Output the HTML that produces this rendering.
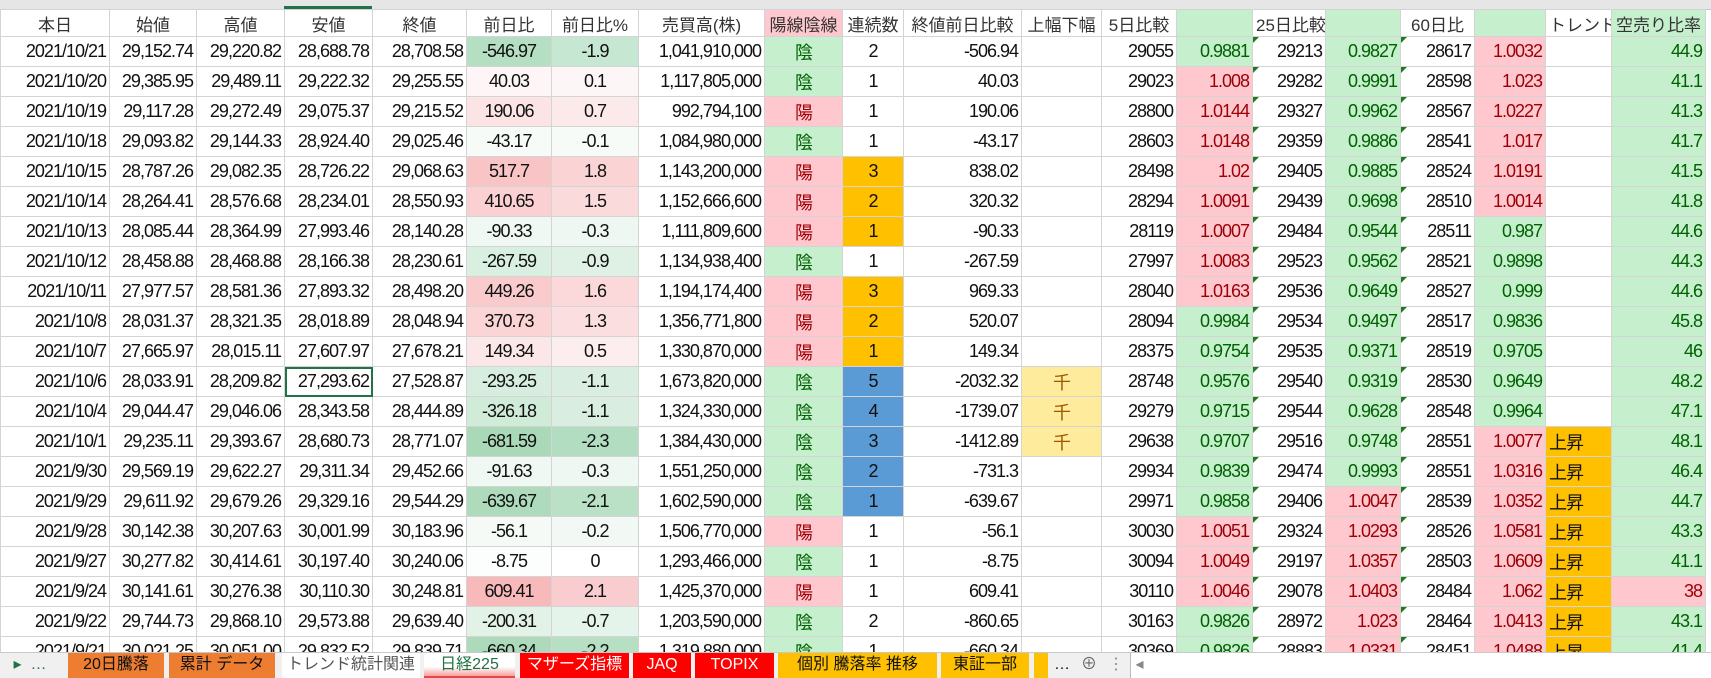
<!DOCTYPE html>
<html><head><meta charset="utf-8"><style>
body{margin:0;width:1711px;height:677px;overflow:hidden;background:#fff;font-family:"Liberation Sans","Noto Sans CJK JP",sans-serif;position:relative}
.top{position:absolute;left:0;top:0;width:1711px;height:9px;background:#e6e6e6;border-bottom:1px solid #c8c8c8}
.sel{position:absolute;left:284px;top:6px;width:88px;height:3px;background:#217346}
table{position:absolute;left:0;top:9px;border-collapse:collapse;table-layout:fixed;width:1705px}
td{border:1px solid #d4d4d4;height:29px;padding:0 3px;font-size:18px;letter-spacing:-1px;white-space:nowrap;overflow:hidden;text-align:right;color:#111;position:relative}
tr.h td{height:26px;text-align:center;font-size:17px;letter-spacing:0;color:#333}
.c{text-align:center}.l{text-align:left}
.in{background:#c6efce;color:#006100;text-align:center}
.yo{background:#ffc7ce;color:#9c0006;text-align:center}
.g{background:#c6efce;color:#006100}
.r{background:#ffc7ce;color:#9c0006}
.o{background:#ffc000}
.b{background:#5b9bd5}
.y{background:#ffeb9c;color:#9c5700;text-align:center}
.t::before{content:"";position:absolute;left:0;top:0;border-top:6px solid #1e7b1e;border-right:6px solid transparent}
.tabs{position:absolute;left:0;top:652px;width:1711px;height:25px;background:#f0f0f0;border-top:1px solid #c8c8c8;font-size:16px}
.tab{position:absolute;top:0;height:25px;line-height:24px;text-align:center;color:#111;white-space:nowrap;overflow:hidden}
</style></head><body>
<div class="top"></div><div class="sel"></div>
<table>
<colgroup><col style="width:109px"><col style="width:87px"><col style="width:88px"><col style="width:88px"><col style="width:94px"><col style="width:85px"><col style="width:87px"><col style="width:126px"><col style="width:78px"><col style="width:61px"><col style="width:118px"><col style="width:80px"><col style="width:75px"><col style="width:76px"><col style="width:73px"><col style="width:75px"><col style="width:74px"><col style="width:71px"><col style="width:66px"><col style="width:94px"></colgroup>
<tr class="h"><td>本日</td><td>始値</td><td>高値</td><td>安値</td><td>終値</td><td>前日比</td><td>前日比%</td><td>売買高(株)</td><td class="yo">陽線陰線</td><td>連続数</td><td>終値前日比較</td><td>上幅下幅</td><td class="l">5日比較</td><td class="g"></td><td class="l">25日比較</td><td class="g"></td><td class="l">60日比</td><td class="g"></td><td class="l">トレンド</td><td class="g">空売り比率</td></tr>
<tr><td>2021/10/21</td><td>29,152.74</td><td>29,220.82</td><td>28,688.78</td><td>28,708.58</td><td class="c" style="background:#b5dfc2">-546.97</td><td class="c" style="background:#c6e7d1">-1.9</td><td>1,041,910,000</td><td class="in">陰</td><td class="c">2</td><td>-506.94</td><td></td><td>29055</td><td class="g">0.9881</td><td class="t">29213</td><td class="g">0.9827</td><td class="t">28617</td><td class="r">1.0032</td><td></td><td class="g">44.9</td></tr>
<tr><td>2021/10/20</td><td>29,385.95</td><td>29,489.11</td><td>29,222.32</td><td>29,255.55</td><td class="c" style="background:#fdf5f6">40.03</td><td class="c" style="background:#fdf6f7">0.1</td><td>1,117,805,000</td><td class="in">陰</td><td class="c">1</td><td>40.03</td><td></td><td>29023</td><td class="r">1.008</td><td class="t">29282</td><td class="g">0.9991</td><td class="t">28598</td><td class="r">1.023</td><td></td><td class="g">41.1</td></tr>
<tr><td>2021/10/19</td><td>29,117.28</td><td>29,272.49</td><td>29,075.37</td><td>29,215.52</td><td class="c" style="background:#fce3e4">190.06</td><td class="c" style="background:#fce9ea">0.7</td><td>992,794,100</td><td class="yo">陽</td><td class="c">1</td><td>190.06</td><td></td><td>28800</td><td class="r">1.0144</td><td class="t">29327</td><td class="g">0.9962</td><td class="t">28567</td><td class="r">1.0227</td><td></td><td class="g">41.3</td></tr>
<tr><td>2021/10/18</td><td>29,093.82</td><td>29,144.33</td><td>28,924.40</td><td>29,025.46</td><td class="c" style="background:#f7fbf8">-43.17</td><td class="c" style="background:#f6fbf8">-0.1</td><td>1,084,980,000</td><td class="in">陰</td><td class="c">1</td><td>-43.17</td><td></td><td>28603</td><td class="r">1.0148</td><td class="t">29359</td><td class="g">0.9886</td><td class="t">28541</td><td class="r">1.017</td><td></td><td class="g">41.7</td></tr>
<tr><td>2021/10/15</td><td>28,787.26</td><td>29,082.35</td><td>28,726.22</td><td>29,068.63</td><td class="c" style="background:#f9c4c6">517.7</td><td class="c" style="background:#fad4d5">1.8</td><td>1,143,200,000</td><td class="yo">陽</td><td class="c o">3</td><td>838.02</td><td></td><td>28498</td><td class="r">1.02</td><td class="t">29405</td><td class="g">0.9885</td><td class="t">28524</td><td class="r">1.0191</td><td></td><td class="g">41.5</td></tr>
<tr><td>2021/10/14</td><td>28,264.41</td><td>28,576.68</td><td>28,234.01</td><td>28,550.93</td><td class="c" style="background:#fad0d2">410.65</td><td class="c" style="background:#fbdadb">1.5</td><td>1,152,666,600</td><td class="yo">陽</td><td class="c o">2</td><td>320.32</td><td></td><td>28294</td><td class="r">1.0091</td><td class="t">29439</td><td class="g">0.9698</td><td class="t">28510</td><td class="r">1.0014</td><td></td><td class="g">41.8</td></tr>
<tr><td>2021/10/13</td><td>28,085.44</td><td>28,364.99</td><td>27,993.46</td><td>28,140.28</td><td class="c" style="background:#eff8f2">-90.33</td><td class="c" style="background:#eef7f1">-0.3</td><td>1,111,809,600</td><td class="yo">陽</td><td class="c o">1</td><td>-90.33</td><td></td><td>28119</td><td class="r">1.0007</td><td class="t">29484</td><td class="g">0.9544</td><td class="t">28511</td><td class="g">0.987</td><td></td><td class="g">44.6</td></tr>
<tr><td>2021/10/12</td><td>28,458.88</td><td>28,468.88</td><td>28,166.38</td><td>28,230.61</td><td class="c" style="background:#d9efe0">-267.59</td><td class="c" style="background:#dff1e5">-0.9</td><td>1,134,938,400</td><td class="in">陰</td><td class="c">1</td><td>-267.59</td><td></td><td>27997</td><td class="r">1.0083</td><td class="t">29523</td><td class="g">0.9562</td><td class="t">28521</td><td class="g">0.9898</td><td></td><td class="g">44.3</td></tr>
<tr><td>2021/10/11</td><td>27,977.57</td><td>28,581.36</td><td>27,893.32</td><td>28,498.20</td><td class="c" style="background:#facbcd">449.26</td><td class="c" style="background:#fbd8d9">1.6</td><td>1,194,174,400</td><td class="yo">陽</td><td class="c o">3</td><td>969.33</td><td></td><td>28040</td><td class="r">1.0163</td><td class="t">29536</td><td class="g">0.9649</td><td class="t">28527</td><td class="g">0.999</td><td></td><td class="g">44.6</td></tr>
<tr><td>2021/10/8</td><td>28,031.37</td><td>28,321.35</td><td>28,018.89</td><td>28,048.94</td><td class="c" style="background:#fbd4d6">370.73</td><td class="c" style="background:#fbdfe0">1.3</td><td>1,356,771,800</td><td class="yo">陽</td><td class="c o">2</td><td>520.07</td><td></td><td>28094</td><td class="g">0.9984</td><td class="t">29534</td><td class="g">0.9497</td><td class="t">28517</td><td class="g">0.9836</td><td></td><td class="g">45.8</td></tr>
<tr><td>2021/10/7</td><td>27,665.97</td><td>28,015.11</td><td>27,607.97</td><td>27,678.21</td><td class="c" style="background:#fce7e8">149.34</td><td class="c" style="background:#fcedee">0.5</td><td>1,330,870,000</td><td class="yo">陽</td><td class="c o">1</td><td>149.34</td><td></td><td>28375</td><td class="g">0.9754</td><td class="t">29535</td><td class="g">0.9371</td><td class="t">28519</td><td class="g">0.9705</td><td></td><td class="g">46</td></tr>
<tr><td>2021/10/6</td><td>28,033.91</td><td>28,209.82</td><td style="outline:2px solid #217346;outline-offset:-2px">27,293.62</td><td>27,528.87</td><td class="c" style="background:#d6ede0">-293.25</td><td class="c" style="background:#d9eee0">-1.1</td><td>1,673,820,000</td><td class="in">陰</td><td class="c b">5</td><td>-2032.32</td><td class="y">千</td><td>28748</td><td class="g">0.9576</td><td class="t">29540</td><td class="g">0.9319</td><td class="t">28530</td><td class="g">0.9649</td><td></td><td class="g">48.2</td></tr>
<tr><td>2021/10/4</td><td>29,044.47</td><td>29,046.06</td><td>28,343.58</td><td>28,444.89</td><td class="c" style="background:#d1ebd9">-326.18</td><td class="c" style="background:#d9eee0">-1.1</td><td>1,324,330,000</td><td class="in">陰</td><td class="c b">4</td><td>-1739.07</td><td class="y">千</td><td>29279</td><td class="g">0.9715</td><td class="t">29544</td><td class="g">0.9628</td><td class="t">28548</td><td class="g">0.9964</td><td></td><td class="g">47.1</td></tr>
<tr><td>2021/10/1</td><td>29,235.11</td><td>29,393.67</td><td>28,680.73</td><td>28,771.07</td><td class="c" style="background:#a9d9b7">-681.59</td><td class="c" style="background:#b2ddc0">-2.3</td><td>1,384,430,000</td><td class="in">陰</td><td class="c b">3</td><td>-1412.89</td><td class="y">千</td><td>29638</td><td class="g">0.9707</td><td class="t">29516</td><td class="g">0.9748</td><td class="t">28551</td><td class="r">1.0077</td><td class="l o">上昇</td><td class="g">48.1</td></tr>
<tr><td>2021/9/30</td><td>29,569.19</td><td>29,622.27</td><td>29,311.34</td><td>29,452.66</td><td class="c" style="background:#eff8f2">-91.63</td><td class="c" style="background:#eef7f1">-0.3</td><td>1,551,250,000</td><td class="in">陰</td><td class="c b">2</td><td>-731.3</td><td></td><td>29934</td><td class="g">0.9839</td><td class="t">29474</td><td class="g">0.9993</td><td class="t">28551</td><td class="r">1.0316</td><td class="l o">上昇</td><td class="g">46.4</td></tr>
<tr><td>2021/9/29</td><td>29,611.92</td><td>29,679.26</td><td>29,329.16</td><td>29,544.29</td><td class="c" style="background:#aedbbc">-639.67</td><td class="c" style="background:#bae1c6">-2.1</td><td>1,602,590,000</td><td class="in">陰</td><td class="c b">1</td><td>-639.67</td><td></td><td>29971</td><td class="g">0.9858</td><td class="t">29406</td><td class="r">1.0047</td><td class="t">28539</td><td class="r">1.0352</td><td class="l o">上昇</td><td class="g">44.7</td></tr>
<tr><td>2021/9/28</td><td>30,142.38</td><td>30,207.63</td><td>30,001.99</td><td>30,183.96</td><td class="c" style="background:#f5faf7">-56.1</td><td class="c" style="background:#f2f9f4">-0.2</td><td>1,506,770,000</td><td class="yo">陽</td><td class="c">1</td><td>-56.1</td><td></td><td>30030</td><td class="r">1.0051</td><td class="t">29324</td><td class="r">1.0293</td><td class="t">28526</td><td class="r">1.0581</td><td class="l o">上昇</td><td class="g">43.3</td></tr>
<tr><td>2021/9/27</td><td>30,277.82</td><td>30,414.61</td><td>30,197.40</td><td>30,240.06</td><td class="c" style="background:#fcfefd">-8.75</td><td class="c">0</td><td>1,293,466,000</td><td class="in">陰</td><td class="c">1</td><td>-8.75</td><td></td><td>30094</td><td class="r">1.0049</td><td class="t">29197</td><td class="r">1.0357</td><td class="t">28503</td><td class="r">1.0609</td><td class="l o">上昇</td><td class="g">41.1</td></tr>
<tr><td>2021/9/24</td><td>30,141.61</td><td>30,276.38</td><td>30,110.30</td><td>30,248.81</td><td class="c" style="background:#f8b9bb">609.41</td><td class="c" style="background:#f9cdcf">2.1</td><td>1,425,370,000</td><td class="yo">陽</td><td class="c">1</td><td>609.41</td><td></td><td>30110</td><td class="r">1.0046</td><td class="t">29078</td><td class="r">1.0403</td><td class="t">28484</td><td class="r">1.062</td><td class="l o">上昇</td><td class="r">38</td></tr>
<tr><td>2021/9/22</td><td>29,744.73</td><td>29,868.10</td><td>29,573.88</td><td>29,639.40</td><td class="c" style="background:#e2f2e7">-200.31</td><td class="c" style="background:#e5f4ea">-0.7</td><td>1,203,590,000</td><td class="in">陰</td><td class="c">2</td><td>-860.65</td><td></td><td>30163</td><td class="g">0.9826</td><td class="t">28972</td><td class="r">1.023</td><td class="t">28464</td><td class="r">1.0413</td><td class="l o">上昇</td><td class="g">43.1</td></tr>
<tr><td>2021/9/21</td><td>30,021.25</td><td>30,051.00</td><td>29,832.52</td><td>29,839.71</td><td class="c" style="background:#acdaba">-660.34</td><td class="c" style="background:#b6dfc3">-2.2</td><td>1,319,880,000</td><td class="in">陰</td><td class="c">1</td><td>-660.34</td><td></td><td>30369</td><td class="g">0.9826</td><td class="t">28883</td><td class="r">1.0331</td><td class="t">28451</td><td class="r">1.0488</td><td class="l o">上昇</td><td class="g">41.4</td></tr>
</table>
<div class="tabs">
<div class="tab" style="left:0;width:60px;color:#217346">▸ &nbsp;…</div>
<div class="tab" style="left:68px;width:96px;background:#ed7d31">20日騰落</div>
<div class="tab" style="left:169px;width:106px;background:#ed7d31">累計 データ</div>
<div class="tab" style="left:282px;width:138px;background:#fff;color:#555">トレンド統計関連</div>
<div class="tab" style="left:424px;width:91px;background:linear-gradient(#fff 60%,#f4a0a0);color:#217346;border-bottom:2px solid #e44;box-sizing:border-box">日経225</div>
<div class="tab" style="left:520px;width:109px;background:#f00;color:#fff">マザーズ指標</div>
<div class="tab" style="left:633px;width:58px;background:#f00;color:#fff">JAQ</div>
<div class="tab" style="left:695px;width:79px;background:#f00;color:#fff">TOPIX</div>
<div class="tab" style="left:778px;width:159px;background:#ffc000">個別 騰落率 推移</div>
<div class="tab" style="left:941px;width:88px;background:#ffc000">東証一部</div>
<div class="tab" style="left:1034px;width:14px;background:#ffc000"></div>
<div class="tab" style="left:1052px;width:20px">…</div>
<div class="tab" style="left:1078px;width:22px;color:#666">⊕</div>
<div class="tab" style="left:1108px;width:12px;color:#888">⋮</div>
<div class="tab" style="left:1130px;width:581px;background:#fff;border-left:1px solid #bbb;color:#888;text-align:left">&nbsp;◂</div>
</div>
</body></html>
